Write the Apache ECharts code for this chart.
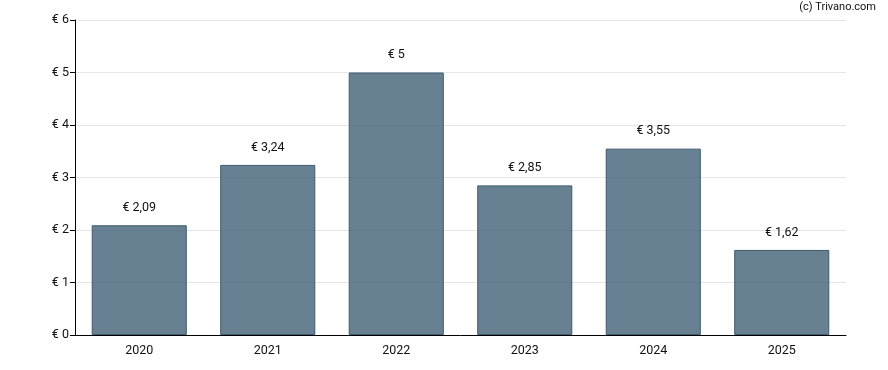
<!DOCTYPE html>
<html><head><meta charset="utf-8">
<script src="https://cdn.jsdelivr.net/npm/echarts@6/dist/echarts.min.js"></script>
<style>html,body{margin:0;padding:0;background:#fff}#c{width:888px;height:370px}</style>
</head><body><div id="c"></div>
<script>
const categories = ['2020','2021','2022','2023','2024','2025'];
const values = [2.09, 3.24, 5, 2.85, 3.55, 1.62];
const yTicks = [0,1,2,3,4,5,6];
const fmt = v => '€ ' + String(v).replace('.', ',');
const chart = echarts.init(document.getElementById('c'), null, {renderer:'canvas'});
chart.setOption({
  animation:false,
  graphic:[{type:'text', right:12, top:2, style:{text:'(c) Trivano.com', font:'11px Roboto, Arial, sans-serif', fill:'#111'}}],
  grid:{left:75, right:42, top:20, bottom:35, containLabel:false},
  xAxis:{type:'category', data:categories,
    axisLine:{lineStyle:{color:'#000', width:1}},
    axisTick:{alignWithLabel:true, length:5, lineStyle:{color:'#000'}},
    axisLabel:{color:'#111', fontSize:12.5, fontFamily:'Roboto, Arial, sans-serif', margin:9}},
  yAxis:{type:'value', min:0, max:6, interval:1,
    axisLine:{show:true, lineStyle:{color:'#000', width:1}},
    axisTick:{show:true, length:5, lineStyle:{color:'#000'}},
    axisLabel:{color:'#111', fontSize:12.5, fontFamily:'Roboto, Arial, sans-serif', margin:6, formatter:v=>'€ '+v},
    splitLine:{show:true, lineStyle:{color:'#e6e6e6', width:1}}},
  series:[{type:'bar', data:values, barWidth:'74%', z:1,
    itemStyle:{color:'rgba(52,87,111,0.75)', borderColor:'#3e5b70', borderWidth:1},
    label:{show:true, position:'top', distance:11, color:'#111', fontSize:12.5, fontFamily:'Roboto, Arial, sans-serif', formatter:p=>fmt(p.value)}}]
});
</script></body></html>
